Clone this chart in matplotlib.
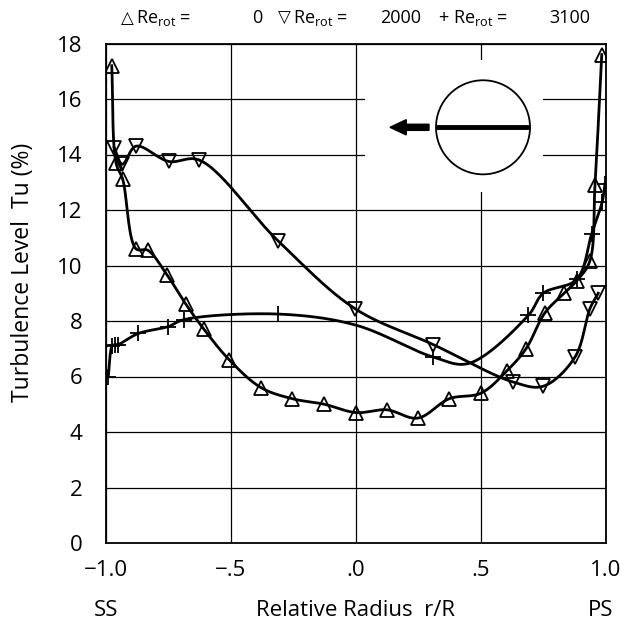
import numpy as np
import matplotlib
matplotlib.use("Agg")
import matplotlib.pyplot as plt
from matplotlib.patches import Rectangle, Ellipse, FancyArrow

plt.rcParams['font.family'] = ['Open Sans', 'DejaVu Sans']
plt.rcParams['mathtext.fontset'] = 'custom'
plt.rcParams['mathtext.rm'] = 'Open Sans'
plt.rcParams['mathtext.it'] = 'Open Sans:italic'

# ---- data ----
re0_x = [-0.977, -0.960, -0.933, -0.880, -0.833, -0.755, -0.680, -0.608, -0.507,
         -0.380, -0.255, -0.127, 0.000, 0.123, 0.247, 0.373, 0.500, 0.603, 0.680,
         0.756, 0.833, 0.883, 0.935, 0.956, 0.983]
re0_y = [17.2, 13.7, 13.1, 10.6, 10.55, 9.65, 8.6, 7.7, 6.6,
         5.6, 5.2, 5.0, 4.7, 4.8, 4.5, 5.2, 5.4, 6.2, 7.0,
         8.3, 9.0, 9.45, 10.15, 12.9, 17.6]

re2000_x = [-0.967, -0.935, -0.880, -0.749, -0.627, -0.313, -0.005, 0.309, 0.629,
            0.749, 0.876, 0.936, 0.969]
re2000_y = [14.25, 13.65, 14.3, 13.75, 13.8, 10.9, 8.45, 7.15, 5.8,
            5.65, 6.7, 8.45, 9.0]

re3100_x = [-0.991, -0.975, -0.963, -0.952, -0.871, -0.751, -0.688, -0.311,
            0.309, 0.689, 0.749, 0.883, 0.943, 0.985, 0.996]
re3100_y = [6.0, 7.1, 7.15, 7.15, 7.55, 7.8, 8.05, 8.25,
            6.7, 8.2, 9.0, 9.5, 11.15, 12.3, 12.95]
# points the Re=3100 curve passes through without a marker
re3100_curve_x = [0.000, 0.450]
re3100_curve_y = [7.85, 6.47]

x_ticks = [-1.0, -0.5, 0.0, 0.5, 1.0]
x_ticklabels = ['\u22121.0', '\u2212.5', '.0', '.5', '1.0']
y_ticks = [0, 2, 4, 6, 8, 10, 12, 14, 16, 18]

SX, SY = 250.0, 27.75  # pixel scale used only for smooth curve parametrisation


def catmull_rom(xs, ys, n=30, alpha=0.5):
    P = np.column_stack([np.asarray(xs) * SX, np.asarray(ys) * SY])
    P = np.vstack([2 * P[0] - P[1], P, 2 * P[-1] - P[-2]])
    out = []
    for i in range(1, len(P) - 2):
        p0, p1, p2, p3 = P[i - 1], P[i], P[i + 1], P[i + 2]
        t0 = 0.0
        t1 = t0 + max(np.linalg.norm(p1 - p0), 1e-6) ** alpha
        t2 = t1 + max(np.linalg.norm(p2 - p1), 1e-6) ** alpha
        t3 = t2 + max(np.linalg.norm(p3 - p2), 1e-6) ** alpha
        t = np.linspace(t1, t2, n)[:, None]
        A1 = (t1 - t) / (t1 - t0) * p0 + (t - t0) / (t1 - t0) * p1
        A2 = (t2 - t) / (t2 - t1) * p1 + (t - t1) / (t2 - t1) * p2
        A3 = (t3 - t) / (t3 - t2) * p2 + (t - t2) / (t3 - t2) * p3
        B1 = (t2 - t) / (t2 - t0) * A1 + (t - t0) / (t2 - t0) * A2
        B2 = (t3 - t) / (t3 - t1) * A2 + (t - t1) / (t3 - t1) * A3
        C = (t2 - t) / (t2 - t1) * B1 + (t - t1) / (t2 - t1) * B2
        out.append(C)
    C = np.vstack(out)
    return C[:, 0] / SX, C[:, 1] / SY


fig = plt.figure(figsize=(6.32, 6.29), dpi=100)
ax = fig.add_axes([106 / 632, 1 - 543 / 629, 500 / 632, 499.5 / 629])

ax.set_xlim(-1, 1)
ax.set_ylim(0, 18)
ax.set_xticks(x_ticks)
ax.set_xticklabels(x_ticklabels)
ax.set_yticks(y_ticks)
ax.tick_params(length=0, labelsize=16, colors='black')
ax.tick_params(axis='x', pad=12)
ax.tick_params(axis='y', pad=17)
ax.set_axisbelow(True)
ax.grid(True, color='black', lw=0.9)
for s in ax.spines.values():
    s.set_linewidth(1.3)
    s.set_color('black')

# inset sketch
ax.add_patch(Rectangle((0.036, 12.64), 0.712, 4.76, facecolor='white', edgecolor='none', zorder=1))
ax.add_patch(Ellipse((0.508, 14.98), 0.376, 3.39, facecolor='white', edgecolor='black', lw=1.3, zorder=2))
ax.plot([0.508 - 0.188, 0.508 + 0.188], [14.98, 14.98], color='black', lw=3.5, zorder=2, solid_capstyle='butt')
ax.add_patch(FancyArrow(0.292, 14.98, -0.156, 0, width=0.22, head_width=0.55, head_length=0.065,
                        length_includes_head=True, color='black', zorder=2))

# curves through markers (plus unmarked nodes for Re=3100)
c3_x = np.array(re3100_x + re3100_curve_x)
c3_y = np.array(re3100_y + re3100_curve_y)
order = np.argsort(c3_x, kind='stable')
curves = [
    (re0_x, re0_y),
    (re2000_x, re2000_y),
    (list(c3_x[order]), list(c3_y[order])),
]
for xs, ys in curves:
    cx, cy = catmull_rom(xs, ys)
    ax.plot(cx, cy, color='black', lw=2.0, zorder=3)

markers = [
    (re0_x, re0_y, '^', 10),
    (re2000_x, re2000_y, 'v', 10),
    (re3100_x, re3100_y, '+', 12),
]
for xs, ys, mk, ms in markers:
    ax.plot(xs, ys, ls='none', marker=mk, ms=ms, mfc='none', mec='black', mew=1.3, zorder=4)

ax.set_ylabel('Turbulence Level  Tu (%)', fontsize=16.5)
ax.yaxis.set_label_coords(-0.142, 0.5425)

# bottom labels
row_y = -(611 - 543) / 499.5
ax.text(-1.0, row_y, 'SS', transform=ax.get_xaxis_transform(), ha='center', va='center', fontsize=16)
ax.text(0.0, row_y, 'Relative Radius  r/R', transform=ax.get_xaxis_transform(), ha='center', va='center', fontsize=16)
ax.text(0.98, row_y, 'PS', transform=ax.get_xaxis_transform(), ha='center', va='center', fontsize=16)

# legend line at top
ly = 1 - 18 / 629
fs = 13
sym = ['DejaVu Sans']
fig.text(121 / 632, ly, '\u25b3', fontsize=fs - 1, va='center', ha='left', family=sym)
fig.text(136 / 632, ly, 'Re$_{\\mathrm{rot}}$ =', fontsize=fs, va='center', ha='left')
fig.text(257 / 632, ly, '0', fontsize=fs, va='center', ha='center')
fig.text(278 / 632, ly, '\u25bd', fontsize=fs - 1, va='center', ha='left', family=sym)
fig.text(293 / 632, ly, 'Re$_{\\mathrm{rot}}$ =', fontsize=fs, va='center', ha='left')
fig.text(401 / 632, ly, '2000', fontsize=fs, va='center', ha='center')
fig.text(438 / 632, ly, '+', fontsize=fs, va='center', ha='left')
fig.text(453 / 632, ly, 'Re$_{\\mathrm{rot}}$ =', fontsize=fs, va='center', ha='left')
fig.text(570 / 632, ly, '3100', fontsize=fs, va='center', ha='center')

fig.savefig('out.png', dpi=100)
